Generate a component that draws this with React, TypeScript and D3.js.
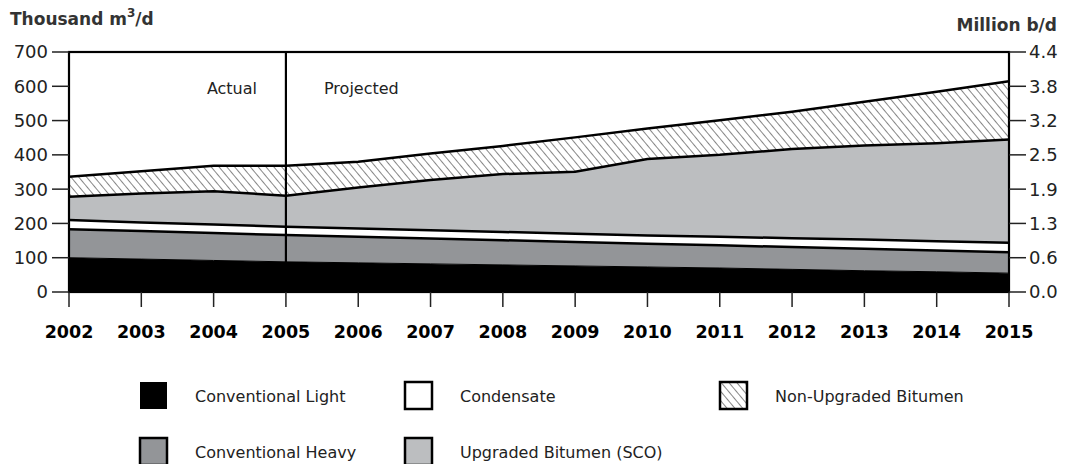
import React from "react";
import * as d3 from "d3";

const years = [2002, 2003, 2004, 2005, 2006, 2007, 2008, 2009, 2010, 2011, 2012, 2013, 2014, 2015];
const conventionalLight = [100, 96, 92, 88, 85, 82, 79, 76, 73, 70, 66, 62, 59, 55];
const conventionalHeavy = [83, 82, 80, 78, 76, 74, 72, 70, 68, 66, 65, 64, 62, 61];
const condensate = [27, 25, 25, 24, 24, 24, 24, 24, 24, 25, 26, 27, 27, 28];
const upgradedBitumen = [68, 84, 97, 91, 120, 147, 169, 181, 223, 239, 260, 274, 286, 301];
const nonUpgradedBitumen = [58, 65, 74, 87, 75, 77, 82, 100, 89, 101, 109, 128, 150, 170];
const leftTicks = [0, 100, 200, 300, 400, 500, 600, 700];
const rightTickLabels = ["0.0", "0.6", "1.3", "1.9", "2.5", "3.2", "3.8", "4.4"];
const seriesKeys = ["light", "heavy", "cond", "sco", "nonup"];
const seriesNames = ["Conventional Light", "Conventional Heavy", "Condensate", "Upgraded Bitumen (SCO)", "Non-Upgraded Bitumen"];
const fills = ["#000000", "#939598", "#ffffff", "#bcbec0", "url(#hatch)"];

const W = 1065, H = 464;
const M = { left: 69, right: 1009, top: 52, bottom: 292 };
const FONT = "'DejaVu Sans', sans-serif";

export default function App() {
  const x = d3.scaleLinear().domain([2002, 2015]).range([M.left, M.right]);
  const y = d3.scaleLinear().domain([0, 700]).range([M.bottom, M.top]);
  const table = years.map((yr, i) => ({
    year: yr,
    light: conventionalLight[i],
    heavy: conventionalHeavy[i],
    cond: condensate[i],
    sco: upgradedBitumen[i],
    nonup: nonUpgradedBitumen[i],
  }));
  const stack = d3.stack<any>().keys(seriesKeys)(table);
  const area = d3.area<any>().x((d) => x(d.data.year)).y0((d) => y(d[0])).y1((d) => y(d[1]));
  const topLine = d3.line<any>().x((d) => x(d.data.year)).y((d) => y(d[1]));

  const legendItems = [
    { i: 0, lx: 140, ly: 382 },
    { i: 2, lx: 405, ly: 382 },
    { i: 4, lx: 720, ly: 382 },
    { i: 1, lx: 140, ly: 438 },
    { i: 3, lx: 405, ly: 438 },
  ];

  return (
    <svg width={W} height={H} style={{ position: "absolute", left: 0, top: 0, background: "#fff" }}>
      <defs>
        <pattern id="hatch" width="6" height="6" patternUnits="userSpaceOnUse" patternTransform="rotate(-40)">
          <rect width="6" height="6" fill="#fff" />
          <line x1="0" y1="0" x2="0" y2="6" stroke="#222" strokeWidth="1.1" />
        </pattern>
      </defs>
      {stack.map((s, i) => (
        <path key={s.key} d={area(s) || ""} fill={fills[i]} />
      ))}
      {stack.map((s, i) =>
        i === 0 ? null : (
          <path key={"l" + s.key} d={topLine(s) || ""} fill="none" stroke="#000" strokeWidth={2.5} />
        )
      )}
      <path d={topLine(stack[0]) || ""} fill="none" stroke="#000" strokeWidth={1} />
      <rect x={M.left} y={M.top} width={M.right - M.left} height={M.bottom - M.top} fill="none" stroke="#000" strokeWidth={2.2} />
      <line x1={x(2005)} x2={x(2005)} y1={M.top} y2={M.bottom} stroke="#000" strokeWidth={2.2} />
      {years.map((yr) => (
        <g key={yr}>
          <line x1={x(yr)} x2={x(yr)} y1={M.bottom} y2={M.bottom + 15} stroke="#222" strokeWidth={1.5} />
          <text x={x(yr)} y={338} textAnchor="middle" fontFamily={FONT} fontWeight="bold" fontSize={17.5} fill="#000">
            {yr}
          </text>
        </g>
      ))}
      {leftTicks.map((v, i) => (
        <g key={v}>
          <line x1={M.left - 17} x2={M.left} y1={y(v)} y2={y(v)} stroke="#222" strokeWidth={1.5} />
          <line x1={M.right} x2={M.right + 17} y1={y(v)} y2={y(v)} stroke="#222" strokeWidth={1.5} />
          <text x={M.left - 21} y={y(v)} dy="0.36em" textAnchor="end" fontFamily={FONT} fontSize={18} fill="#222">
            {v}
          </text>
          <text x={M.right + 20} y={y(v)} dy="0.36em" textAnchor="start" fontFamily={FONT} fontSize={18} fill="#222">
            {rightTickLabels[i]}
          </text>
        </g>
      ))}
      <text x={10} y={25} fontFamily={FONT} fontWeight="bold" fontSize={17} fill="#333">
        Thousand m<tspan dy={-8} fontSize={12}>3</tspan><tspan dy={8}>/d</tspan>
      </text>
      <text x={1057} y={31} textAnchor="end" fontFamily={FONT} fontWeight="bold" fontSize={17} fill="#333">
        Million b/d
      </text>
      <text x={257} y={94} textAnchor="end" fontFamily={FONT} fontSize={16} fill="#222">Actual</text>
      <text x={324} y={94} textAnchor="start" fontFamily={FONT} fontSize={16} fill="#222">Projected</text>
      {legendItems.map(({ i, lx, ly }) => (
        <g key={i}>
          <rect x={lx} y={ly} width={27} height={27} fill={fills[i]} stroke="#000" strokeWidth={i === 0 ? 0 : 2.5} />
          <text x={lx + 55} y={ly + 14} dy="0.36em" fontFamily={FONT} fontSize={16} fill="#222">
            {seriesNames[i]}
          </text>
        </g>
      ))}
    </svg>
  );
}
